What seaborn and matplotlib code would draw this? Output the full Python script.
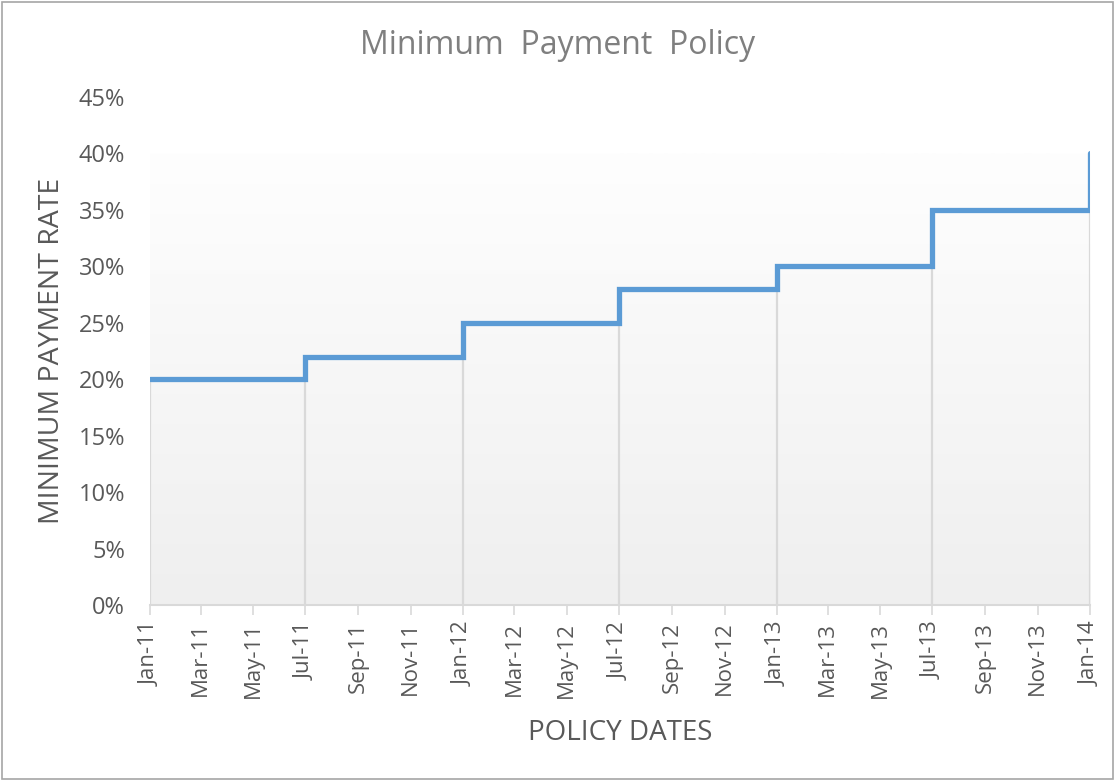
import numpy as np
import pandas as pd
import matplotlib
matplotlib.use("Agg")
import matplotlib.pyplot as plt
import matplotlib.dates as mdates
from matplotlib.colors import LinearSegmentedColormap
from matplotlib.patches import Rectangle
import seaborn as sns

# policy change dates and the minimum payment rate that applies from each date
policy_dates = ["2011-01-01", "2011-07-01", "2012-01-01", "2012-07-01",
                "2013-01-01", "2013-07-01", "2014-01-01"]
payment_rates = [0.20, 0.22, 0.25, 0.28, 0.30, 0.35, 0.40]
y_ticks = [0.0, 0.05, 0.10, 0.15, 0.20, 0.25, 0.30, 0.35, 0.40, 0.45]

df = pd.DataFrame({"date": pd.to_datetime(policy_dates), "rate": payment_rates})

sns.set_style("white")
plt.rcParams["font.family"] = ["Open Sans", "DejaVu Sans"]
text_grey = "#595959"

fig = plt.figure(figsize=(11.15, 7.81), dpi=100)
ax = fig.add_axes([0.1345, 0.2253, 0.8431, 0.6505])

x0 = mdates.date2num(df["date"].iloc[0])
x1 = mdates.date2num(df["date"].iloc[-1])

# gradient fill behind the series (Excel style)
grad = np.linspace(0, 1, 256).reshape(-1, 1)
cmap = LinearSegmentedColormap.from_list("bg", ["#fefefe", "#efefef"])
ax.imshow(grad, extent=[x0, x1, 0, max(payment_rates)], aspect="auto",
          cmap=cmap, origin="upper", zorder=0)

# drop lines
ax.vlines(df["date"], 0, df["rate"], color="#d9d9d9", lw=1.6, zorder=1)

sns.lineplot(data=df, x="date", y="rate", drawstyle="steps-post",
             color="#5B9BD5", lw=3.8, ax=ax, zorder=3,
             solid_joinstyle="miter")

ax.set_xlim(x0, x1)
ax.set_ylim(0, 0.45)
ax.set_yticks(y_ticks)
ax.set_yticklabels([f"{int(round(v * 100))}%" for v in y_ticks])

ax.xaxis.set_major_locator(mdates.MonthLocator(bymonth=[1, 3, 5, 7, 9, 11]))
ax.xaxis.set_major_formatter(mdates.DateFormatter("%b-%y"))
plt.setp(ax.get_xticklabels(), rotation=90)

ax.tick_params(axis="x", which="major", length=7, width=1.2, color="#d9d9d9",
               labelsize=16, labelcolor=text_grey, pad=5, bottom=True)
ax.tick_params(axis="y", length=0, labelsize=17, labelcolor=text_grey, pad=18)

for side in ["top", "right", "left"]:
    ax.spines[side].set_visible(False)
ax.spines["bottom"].set_color("#d9d9d9")
ax.spines["bottom"].set_linewidth(1.5)
ax.patch.set_alpha(0)

ax.set_xlabel("")
ax.set_ylabel("")
fig.text(0.5, 1 - 45 / 781, "Minimum  Payment  Policy", ha="center", va="center",
         fontsize=23, color="#7f7f7f")
fig.text(0.556, 1 - 733 / 781, "POLICY DATES", ha="center", va="center",
         fontsize=20, color=text_grey)
fig.text(52 / 1115, 1 - 351 / 781, "MINIMUM PAYMENT RATE", ha="center", va="center",
         rotation=90, fontsize=20.5, color=text_grey)

# chart border
fig.patches.append(Rectangle((0.002, 0.003), 0.996, 0.994, transform=fig.transFigure,
                             fill=False, edgecolor="#a6a6a6", lw=1.2))

fig.savefig("out.png", dpi=100)
